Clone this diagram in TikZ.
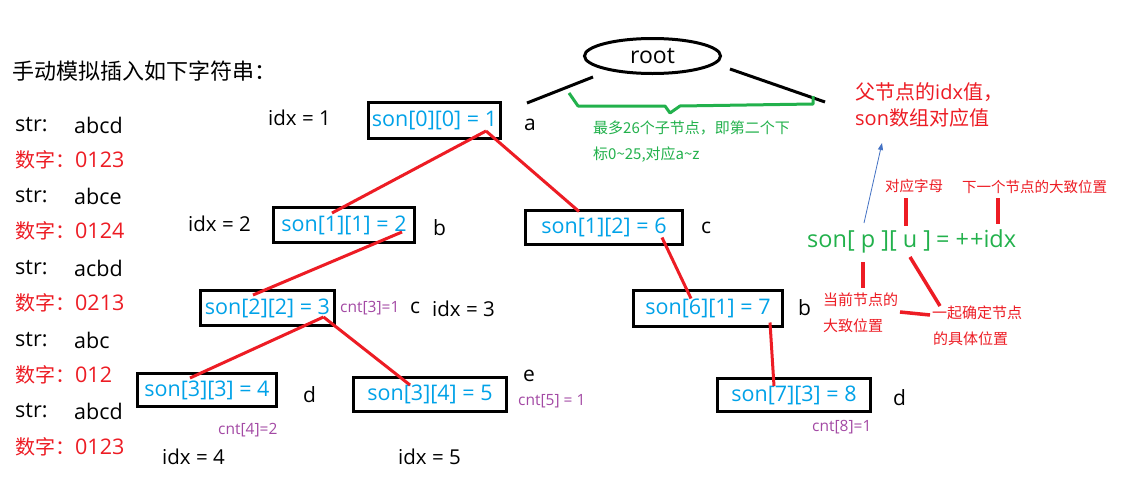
\documentclass[tikz,border=0pt]{standalone}
\usepackage{fontspec}
\setmainfont{Open Sans}
\newfontfamily\cjk{Noto Sans CJK SC}
\usetikzlibrary{calc,shapes.geometric,arrows.meta}
\definecolor{tblue}{RGB}{0,162,232}
\definecolor{tred}{RGB}{237,28,36}
\definecolor{tgreen}{RGB}{34,177,76}
\definecolor{tpurple}{RGB}{163,73,164}
\definecolor{tarrow}{RGB}{68,114,196}
\tikzset{
  sonbox/.style={draw=black,line width=3pt,text=tblue,font=\fontsize{21.5}{23}\selectfont,inner sep=0pt,outer sep=0pt},
  lbl/.style={anchor=west,inner sep=0pt,font=\fontsize{20.5}{22}\selectfont},
  letter/.style={anchor=west,inner sep=0pt,font=\fontsize{21}{23}\selectfont},
  cnt/.style={anchor=west,inner sep=0pt,text=tpurple,font=\fontsize{15.5}{17}\selectfont},
  liststr/.style={anchor=west,inner sep=0pt,font=\fontsize{21.5}{23}\selectfont},
  listnum/.style={anchor=west,inner sep=0pt,text=tred,font=\fontsize{21.5}{23}\selectfont},
  edge/.style={draw=tred,line width=3pt},
  note/.style={anchor=west,inner sep=0pt,text=tred,font=\cjk\fontsize{15}{17}\selectfont},
  noteline/.style={draw=tred,line width=3.5pt},
}
\begin{document}
\begin{tikzpicture}[x=1pt,y=-1pt]
\useasboundingbox[fill=white] (0,0) rectangle (1122,482);
% title
\node[anchor=west,inner sep=0pt,font=\cjk\fontsize{22}{24}\selectfont] (title) at (12,71) {手动模拟插入如下字符串：};
% list
\node[liststr] (s1) at (15,125) {str:};  \node[liststr] (v1) at (74,125) {abcd};
\node[listnum] (n1) at (15,160) {{\cjk\fontsize{20}{22}\selectfont 数字：}0123};
\node[liststr] (s2) at (15,196) {str:};  \node[liststr] (v2) at (74,196) {abce};
\node[listnum] (n2) at (15,231) {{\cjk\fontsize{20}{22}\selectfont 数字：}0124};
\node[liststr] (s3) at (15,268) {str:};  \node[liststr] (v3) at (74,268) {acbd};
\node[listnum] (n3) at (15,303) {{\cjk\fontsize{20}{22}\selectfont 数字：}0213};
\node[liststr] (s4) at (15,340) {str:};  \node[liststr] (v4) at (74,340) {abc};
\node[listnum] (n4) at (15,375) {{\cjk\fontsize{20}{22}\selectfont 数字：}012};
\node[liststr] (s5) at (15,411) {str:};  \node[liststr] (v5) at (74,411) {abcd};
\node[listnum] (n5) at (15,447) {{\cjk\fontsize{20}{22}\selectfont 数字：}0123};
% root
\node[ellipse,draw=black,line width=3pt,minimum width=136pt,minimum height=35pt,inner sep=0pt,font=\fontsize{23}{25}\selectfont] (root) at (652.5,56) {root};
\coordinate (la) at (527,103);
\coordinate (lb) at (593,77);
\coordinate (ra) at (730,69);
\coordinate (rb) at (825,102);
\draw[line width=3pt] (la) -- (lb);
\draw[line width=3pt] (ra) -- (rb);
% brace
\draw[tgreen,line width=3pt,line join=round] (569,93) -- (578,106) -- (665,106) -- (670,113) -- (680,106) -- (813,104) -- (813,96);
\node[anchor=west,inner sep=0pt,text=tgreen,font=\cjk\fontsize{15}{17}\selectfont] (g1) at (593,128) {最多26个子节点，即第二个下};
\node[anchor=west,inner sep=0pt,text=tgreen,font=\cjk\fontsize{15}{17}\selectfont] (g2) at (593,155) {标0\textasciitilde 25,对应a\textasciitilde z};
% boxes
\node[sonbox,minimum width=132pt,minimum height=36pt] (b1) at (434.5,120.5) {son[0][0] = 1};
\node[sonbox,minimum width=141pt,minimum height=35pt] (b2) at (344,225) {son[1][1] = 2};
\node[sonbox,minimum width=157pt,minimum height=34pt] (b6) at (604,227.5) {son[1][2] = 6};
\node[sonbox,minimum width=134pt,minimum height=35pt] (b3) at (267.5,308) {son[2][2] = 3};
\node[sonbox,minimum width=149pt,minimum height=36pt] (b7) at (708,308.5) {son[6][1] = 7};
\node[sonbox,minimum width=139pt,minimum height=33pt] (b4) at (207,390) {son[3][3] = 4};
\node[sonbox,minimum width=153pt,minimum height=34pt] (b5) at (430,394.5) {son[3][4] = 5};
\node[sonbox,minimum width=153pt,minimum height=33pt] (b8) at (794,395) {son[7][3] = 8};
% labels
\node[lbl] (i1) at (268,118) {idx = 1};
\node[letter] (la1) at (524,125) {a};
\node[lbl] (i2) at (188,224) {idx = 2};
\node[letter] (lb2) at (433,228) {b};
\node[letter] (lc6) at (701,228) {c};
\node[cnt] (c3) at (340,308) {cnt[3]=1};
\node[letter] (lc3) at (410,308) {c};
\node[lbl] (i3) at (432,309) {idx = 3};
\node[letter] (lb7) at (798,308) {b};
\node[letter] (ld4) at (303,395) {d};
\node[cnt] (c4) at (218,430) {cnt[4]=2};
\node[lbl] (i4) at (162,457) {idx = 4};
\node[letter] (le5) at (523,376) {e};
\node[cnt] (c5) at (518,401) {cnt[5] = 1};
\node[lbl] (i5) at (398,457) {idx = 5};
\node[letter] (ld8) at (893,398) {d};
\node[cnt] (c8) at (812,427) {cnt[8]=1};
% tree edges
\draw[edge] ($(b1)+(51.5,10.5)$) -- ($(b2)+(-12,-12)$);
\draw[edge] ($(b1)+(51.5,10.5)$) -- ($(b6)+(-25,-16)$);
\draw[edge] ($(b2)+(58,7)$) -- ($(b3)+(-14.5,-13)$);
\draw[edge] ($(b3)+(56,9)$) -- ($(b4)+(-17,-12)$);
\draw[edge] ($(b3)+(56,9)$) -- ($(b5)+(-20,-9.5)$);
\draw[edge] ($(b6)+(58,10)$) -- ($(b7)+(-17,-10)$);
\draw[edge] ($(b7)+(62,14)$) -- ($(b8)+(-20,-9)$);
% right annotations
\node[anchor=west,inner sep=0pt,text=tred,font=\fontsize{20}{22}\selectfont] (p1) at (855,92) {{\cjk 父节点的}idx{\cjk 值，}};
\node[anchor=west,inner sep=0pt,text=tred,font=\fontsize{20}{22}\selectfont] (p2) at (855,118) {son{\cjk 数组对应值}};
\node[anchor=west,inner sep=0pt,text=tgreen,font=\fontsize{23.5}{26}\selectfont] (eq) at (807,241) {son[ p ][ u ]\hspace{5pt}=\hspace{6pt}+\hspace{1pt}+idx};
\node[note,font=\cjk\fontsize{14.5}{16}\selectfont] (t1) at (885,186) {对应字母};
\node[note,font=\cjk\fontsize{14.5}{16}\selectfont] (t2) at (962,187) {下一个节点的大致位置};
\node[note] (t3) at (823,300) {当前节点的};
\node[note] (t4) at (823,326) {大致位置};
\node[note] (t5) at (932,313) {一起确定节点};
\node[note] (t6) at (933,339) {的具体位置};
\coordinate (pa) at (864,223);
\coordinate (pb) at (882,143);
\draw[tarrow,line width=0.8pt,-{Triangle[length=7pt,width=5pt]}] (pa) -- (pb);
\draw[noteline] (906,198) -- (906,226);
\draw[noteline] (998,198) -- (998,224);
\draw[noteline] (863,262) -- (863,288);
\draw[noteline] (910,257) -- (940,306);
\draw[noteline] (900,312) -- (930,315);
\end{tikzpicture}
\end{document}
